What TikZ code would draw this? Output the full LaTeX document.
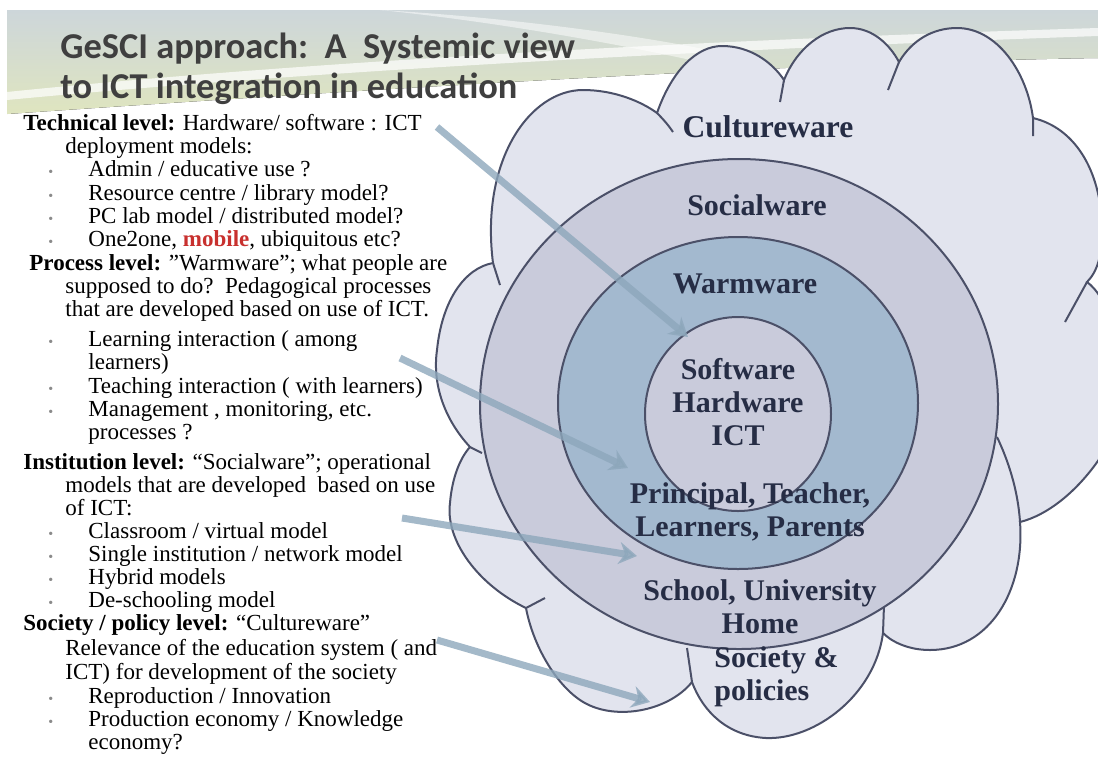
\documentclass[tikz,border=0pt]{standalone}
\usepackage{fontspec}
\setmainfont{Liberation Serif}
\newfontfamily\titlefont{Carlito}
\usetikzlibrary{arrows.meta, positioning}

\definecolor{cloudfill}{HTML}{E2E4EE}
\definecolor{ringline}{HTML}{4B5068}
\definecolor{outerring}{HTML}{C9CBDB}
\definecolor{midring}{HTML}{A3B9CF}
\definecolor{labelink}{HTML}{262D45}
\definecolor{titleink}{HTML}{3F3F3F}
\definecolor{arrowblue}{HTML}{8DA7BB}
\definecolor{mobilered}{HTML}{C8302E}
\definecolor{bannerblue}{HTML}{CDD6DA}
\definecolor{bannergreen}{HTML}{DFE5BF}
\definecolor{dotgray}{HTML}{8A8A8A}

\tikzset{
  ring/.style = {draw=ringline, line width=1pt, fill=#1},
  ringlabel/.style = {font=\fontsize{15}{16.5}\selectfont\bfseries, text=labelink, align=center, inner sep=0pt},
  bodyline/.style = {anchor=west, inner sep=0pt, font=\fontsize{11.5}{12}\selectfont, text height=1.55ex, text depth=.45ex},
  pointer/.style = {arrowblue, opacity=.8, line width=3.5pt, -{Stealth[length=9pt,width=11pt]}},
}
\newcommand{\lvl}[1]{\textbf{#1}}
\newcommand{\itemdot}{\makebox[20pt][l]{\textcolor{dotgray}{\scriptsize\textbullet}}}

\begin{document}
\begin{tikzpicture}[x=0.5pt,y=-0.5pt]
\useasboundingbox (0,0) rectangle (1098,757);
\clip (0,0) rectangle (1098,757);

% slide banner
\fill[top color=bannerblue, bottom color=bannergreen]
  (7,10) -- (1098,10) -- (1098,58) .. controls (850,62) and (500,80) .. (7,114) -- cycle;
\fill[white, opacity=.7]
  (7,92) .. controls (300,62) and (700,40) .. (1098,28) -- (1098,36) .. controls (700,50) and (300,72) .. (7,100) -- cycle;
\fill[white, opacity=.5]
  (380,10) .. controls (520,18) and (680,40) .. (760,62) -- (700,62) .. controls (600,40) and (480,20) .. (380,10) -- cycle;

% title
\node[anchor=base west, inner sep=0pt, font=\titlefont\fontsize{18.2}{20}\selectfont\bfseries, text=titleink]
  (title) at (60,58) {GeSCI approach:\ \ A\ \ Systemic view};
\node[anchor=base west, inner sep=0pt, font=\titlefont\fontsize{18.2}{20}\selectfont\bfseries, text=titleink]
  (subtitle) at (60,98) {to ICT integration in education};

% cloud
\path[ring=cloudfill]
  (493,263) .. controls (480,160) and (530,90) .. (583,90)
  .. controls (615,90) and (642,102) .. (657,113)
  .. controls (672,70) and (697,46) .. (722,46)
  .. controls (750,46) and (772,62) .. (784,80)
  .. controls (797,48) and (823,28) .. (850,28)
  .. controls (873,28) and (890,45) .. (899,62)
  .. controls (912,40) and (933,28) .. (957,28)
  .. controls (997,28) and (1027,72) .. (1033,118)
  .. controls (1075,128) and (1100,170) .. (1102,225)
  .. controls (1103,255) and (1097,272) .. (1087,282)
  .. controls (1125,310) and (1130,420) .. (1095,465)
  .. controls (1075,492) and (1048,515) .. (1020,522)
  .. controls (1025,590) and (990,650) .. (930,650)
  .. controls (910,650) and (893,643) .. (883,633)
  .. controls (875,695) and (815,740) .. (766,738)
  .. controls (728,736) and (703,712) .. (692,682)
  .. controls (668,712) and (612,722) .. (580,700)
  .. controls (555,683) and (533,645) .. (526,608)
  .. controls (478,585) and (445,540) .. (450,503)
  .. controls (452,478) and (460,458) .. (470,447)
  .. controls (445,420) and (432,385) .. (437,350)
  .. controls (442,300) and (465,268) .. (493,263) -- cycle;
% bump seams
\draw[ringline, line width=1pt]
  (657,113) .. controls (664,120) and (669,126) .. (673,132)
  (784,80) -- (780,102)
  (899,62) -- (888,90)
  (1033,118) -- (1033,136)
  (1087,282) -- (1065,322)
  (1020,522) .. controls (1018,490) and (1008,460) .. (997,437)
  (883,633) -- (884,605)
  (692,682) -- (687,648)
  (526,608) -- (545,598)
  (470,447) -- (482,453)
  (493,263) -- (500,285);

% rings
\path[ring=outerring] (739,404) ellipse [x radius=259, y radius=245];
\path[ring=midring] (738,403) ellipse [x radius=180, y radius=166];
\path[ring=outerring] (738,414) ellipse [x radius=93, y radius=97];

% ring labels
\node[ringlabel, font=\fontsize{15.8}{16.5}\selectfont\bfseries] (culture) at (768,127) {Cultureware};
\node[ringlabel] (social) at (757,205) {Socialware};
\node[ringlabel] (warm) at (745,284) {Warmware};
\node[ringlabel] (core) at (738,402) {Software\\Hardware\\ICT};
\node[ringlabel] (people) at (750,512) {Principal, Teacher,\\Learners, Parents};
\node[ringlabel] (places) at (760,607) {School, University\\Home};
\node[ringlabel, align=left, anchor=west] (society) at (714,677) {Society \&\\policies};

% technical level
\node[bodyline] (tech) at (23,125) {\lvl{Technical level:} Hardware/ software : ICT};
\node[bodyline] (tech-2) at (65,148) {deployment models:};
\foreach \y/\txt [count=\i] in {171/{Admin / educative use ?},
    195/{Resource centre / library model?},
    218/{PC lab model / distributed model?},
    241/{One2one, \textcolor{mobilered}{\textbf{mobile}}, ubiquitous etc?}}
  \node[bodyline] (tech-item\i) at (48,\y) {\itemdot\txt};

% process level
\node[bodyline] (proc) at (29,265) {\lvl{Process level:} ”Warmware”; what people are};
\node[bodyline] (proc-2) at (65,288) {supposed to do?\ \ Pedagogical processes};
\node[bodyline] (proc-3) at (65,311) {that are developed based on use of ICT.};
\foreach \y/\txt [count=\i] in {341/{Learning interaction ( among},
    388/{Teaching interaction ( with learners)},
    411/{Management , monitoring, etc.}}
  \node[bodyline] (proc-item\i) at (48,\y) {\itemdot\txt};
\node[bodyline] (proc-item1b) at (88,364) {learners)};
\node[bodyline] (proc-item3b) at (88,434) {processes ?};

% institution level
\node[bodyline] (inst) at (23,464) {\lvl{Institution level:} “Socialware”; operational};
\node[bodyline] (inst-2) at (65,487) {models that are developed\ \ based on use};
\node[bodyline] (inst-3) at (65,510) {of ICT:};
\foreach \y/\txt [count=\i] in {533/{Classroom / virtual model},
    556/{Single institution / network model},
    579/{Hybrid models},
    602/{De-schooling model}}
  \node[bodyline] (inst-item\i) at (48,\y) {\itemdot\txt};

% society level
\node[bodyline] (soc) at (23,625) {\lvl{Society / policy level:} “Cultureware”};
\node[bodyline] (soc-2) at (65,650) {Relevance of the education system ( and};
\node[bodyline] (soc-3) at (65,674) {ICT) for development of the society};
\foreach \y/\txt [count=\i] in {698/{Reproduction / Innovation},
    721/{Production economy / Knowledge}}
  \node[bodyline] (soc-item\i) at (48,\y) {\itemdot\txt};
\node[bodyline] (soc-item2b) at (88,744) {economy?};

% pointers into the rings
\coordinate (from-tech) at (437,127);
\coordinate (to-tech) at (688,337);
\coordinate (from-proc) at (400,358);
\coordinate (to-proc) at (628,468);
\coordinate (from-inst) at (402,518);
\coordinate (to-inst) at (637,556);
\coordinate (from-soc) at (437,640);
\coordinate (to-soc) at (650,702);
\draw[pointer] (from-tech) -- (to-tech);
\draw[pointer] (from-proc) -- (to-proc);
\draw[pointer] (from-inst) -- (to-inst);
\draw[pointer] (from-soc) -- (to-soc);
\end{tikzpicture}
\end{document}
